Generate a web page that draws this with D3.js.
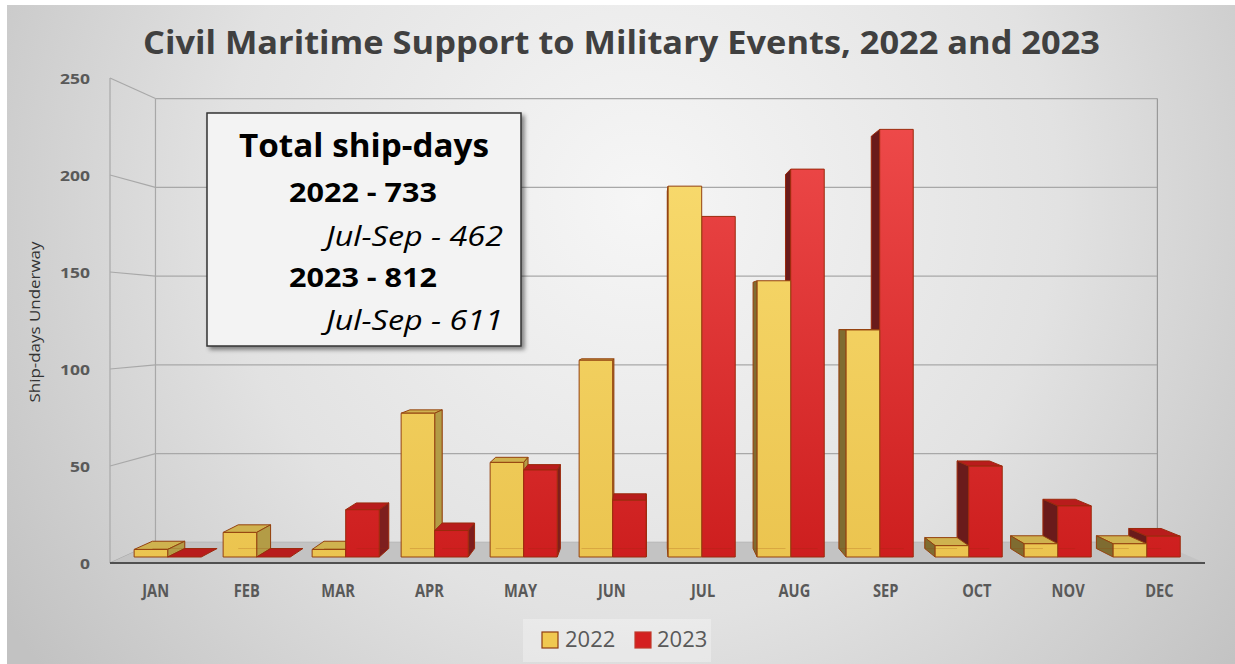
<!DOCTYPE html>
<html><head><meta charset="utf-8">
<script src="https://cdn.jsdelivr.net/npm/d3@7"></script>
<style>
html,body{margin:0;padding:0;background:#fff;}
svg{display:block;font-family:"Open Sans",sans-serif;}
</style></head><body>
<svg id="chart" width="1235" height="664"></svg>
<script>
// ---------------- data ----------------
const months = ["JAN","FEB","MAR","APR","MAY","JUN","JUL","AUG","SEP","OCT","NOV","DEC"];
const seriesNames = ["2022","2023"];
const values2022 = [4,13,4,76,50,104,196,146,120,6,7,7];
const values2023 = [0,0,25,14,46,30,180,205,226,48,27,11];
const yTicks = [0,50,100,150,200,250];
const titleText = "Civil Maritime Support to Military Events, 2022 and 2023";
const yAxisTitle = "Ship-days Underway";
const noteTitle = "Total ship-days";
const noteYears = ["2022 - 733","2023 - 812"];
const noteSubs = ["Jul-Sep - 462","Jul-Sep - 611"];

// ---------------- setup ----------------
const svg = d3.select("#chart");
const W = 1235, H = 664;
const defs = svg.append("defs");

const bg = defs.append("radialGradient").attr("id","bg").attr("gradientUnits","userSpaceOnUse")
  .attr("cx",640).attr("cy",200).attr("r",760);
bg.append("stop").attr("offset",0).attr("stop-color","#f6f6f6");
bg.append("stop").attr("offset",0.55).attr("stop-color","#e2e2e2");
bg.append("stop").attr("offset",1).attr("stop-color","#c2c2c2");

function vgrad(id, c1, c2){
  const g = defs.append("linearGradient").attr("id",id).attr("gradientUnits","userSpaceOnUse")
    .attr("x1",0).attr("y1",120).attr("x2",0).attr("y2",560);
  g.append("stop").attr("offset",0).attr("stop-color",c1);
  g.append("stop").attr("offset",1).attr("stop-color",c2);
}
vgrad("yFront","#f9dc70","#ebc44f");
vgrad("rFront","#ee4a4a","#cd1e1e");

const sh = defs.append("filter").attr("id","shadow").attr("x","-10%").attr("y","-10%").attr("width","130%").attr("height","130%");
sh.append("feDropShadow").attr("dx",3).attr("dy",3).attr("stdDeviation",2).attr("flood-color","#000").attr("flood-opacity",0.45);

svg.append("rect").attr("x",0).attr("y",0).attr("width",W).attr("height",H).attr("fill","#ffffff");
svg.append("rect").attr("x",7).attr("y",5).attr("width",W-7).attr("height",H-5).attr("fill","url(#bg)");

// ---------------- scales & projection ----------------
const frontLeft = 110, frontRight = 1205, frontBottom = 563, frontTop = 78;
const VX = 645, VY = 320, K = 0.085;
const sc = z => 1 - K*z;
const P = (X,Y,z) => [VX + (X-VX)*sc(z), VY + (Y-VY)*sc(z)];

const x = d3.scaleBand().domain(months).range([frontLeft, frontRight]);
const groupW = x.bandwidth()*0.754;
const xs = d3.scaleBand().domain(seriesNames).range([0, groupW]);
const y = d3.scaleLinear().domain([0,250]).range([frontBottom, frontTop]);
const z0 = 0.29, z1 = 0.70;
const line = d3.line();
const poly = pts => line(pts) + "Z";

// ---------------- walls / grid ----------------
const grid = svg.append("g").attr("fill","none").attr("stroke","#a8a8a8").attr("stroke-width",1.2);
// floor
svg.insert("path", null);
svg.append("path")
  .attr("d", poly([[frontLeft,frontBottom],[frontRight,frontBottom],P(frontRight,frontBottom,1),P(frontLeft,frontBottom,1)]))
  .attr("fill","#c3c3c3");
yTicks.forEach(v=>{
  const a = P(frontLeft,y(v),1), b = P(frontRight,y(v),1);
  grid.append("path").attr("d", line([a,b]));
  grid.append("path").attr("d", line([[frontLeft,y(v)], a]));
});
grid.append("path").attr("d", line([[frontLeft,y(250)],[frontLeft,y(0)]]));
grid.append("path").attr("d", line([P(frontLeft,y(250),1),P(frontLeft,y(0),1)]));
grid.append("path").attr("d", line([P(frontRight,y(250),1),P(frontRight,y(0),1)])).attr("stroke","#999");
svg.append("path").attr("d", line([[frontLeft,frontBottom],[frontRight,frontBottom]]))
  .attr("stroke","#505050").attr("stroke-width",2.2).attr("fill","none");

// ---------------- bars ----------------
const bars = [];
months.forEach((m,i)=>{
  [values2022[i], values2023[i]].forEach((v,j)=>{
    const X0 = x(m) + (x.bandwidth()-groupW)/2 + xs(seriesNames[j]);
    const X1 = X0 + xs.bandwidth();
    bars.push({m, v, j, X0, X1, cx:(X0+X1)/2});
  });
});
bars.sort((a,b)=>Math.abs(b.cx-VX)-Math.abs(a.cx-VX));

const pal = [
  {front:"url(#yFront)", top:"#cfb24f", sideR:"#b39c46", sideL:"#7f6c31", stroke:"#94420f"},
  {front:"url(#rFront)", top:"#b81c1c", sideR:"#7e1e1e", sideL:"#6a1b1b", stroke:"#9b2a0c"}
];
const gb = svg.append("g");
bars.forEach(b=>{
  const c = pal[b.j];
  const Y0 = y(0), Y1 = y(b.v);
  const g = gb.append("g").attr("stroke",c.stroke).attr("stroke-width",1).attr("stroke-linejoin","round");
  if (Y1 > VY) {
    g.append("path").attr("d", poly([P(b.X0,Y1,z0),P(b.X1,Y1,z0),P(b.X1,Y1,z1),P(b.X0,Y1,z1)])).attr("fill",c.top);
  }
  if (b.v > 0) {
    const leftOf = b.cx < VX;
    const XE = leftOf ? b.X1 : b.X0;
    g.append("path").attr("d", poly([P(XE,Y1,z0),P(XE,Y1,z1),P(XE,Y0,z1),P(XE,Y0,z0)]))
      .attr("fill", leftOf ? c.sideR : c.sideL);
    g.append("path").attr("d", poly([P(b.X0,Y1,z0),P(b.X1,Y1,z0),P(b.X1,Y0,z0),P(b.X0,Y0,z0)]))
      .attr("fill", c.front);
    // faint see-through back edges (glass look)
    const ge = g.append("g").attr("stroke-opacity",0.22).attr("fill","none");
    const XB = leftOf ? b.X1 : b.X0;
    ge.append("path").attr("d", line([P(XB,Y1,z1),P(XB,Y0,z1)]));
    ge.append("path").attr("d", line([P(b.X0,Y0,z1),P(b.X1,Y0,z1)]));
  }
});

// ---------------- axes text ----------------
function fit(sel, w){
  sel.each(function(){
    const n = this.getComputedTextLength();
    if (Math.abs(n-w) > 1) d3.select(this).attr("textLength", w).attr("lengthAdjust","spacingAndGlyphs");
  });
}
const yAxis = d3.axisLeft(y).tickValues(yTicks).tickSize(0).tickPadding(0);
const ya = svg.append("g").attr("transform","translate(90,0)").call(yAxis);
ya.select(".domain").remove();
ya.selectAll("text").attr("font-family","Open Sans").attr("font-weight",700).attr("font-size",15)
  .attr("fill","#595959").attr("dy","0.38em").attr("x",0)
  .each(function(d){ fit(d3.select(this), String(d).length*10); });

const xa = svg.append("g");
months.forEach(m=>{
  const t = xa.append("text").attr("x", x(m)+x.bandwidth()/2).attr("y",597).attr("text-anchor","middle")
    .attr("font-weight",700).attr("font-size",17).attr("fill","#595959").text(m);
  const n = t.node().getComputedTextLength();
  t.attr("textLength", n*0.86).attr("lengthAdjust","spacingAndGlyphs");
});

const yt = svg.append("text").attr("transform","translate(40,322) rotate(-90)").attr("text-anchor","middle")
  .attr("font-size",14).attr("fill","#333").text(yAxisTitle);
fit(yt,161);

const tt = svg.append("text").attr("x",621.5).attr("y",54).attr("text-anchor","middle")
  .attr("font-weight",700).attr("font-size",33).attr("fill","#404040").text(titleText);
fit(tt,957);

// ---------------- note box ----------------
svg.append("rect").attr("x",207).attr("y",113).attr("width",314).attr("height",233)
  .attr("fill","#f3f3f3").attr("stroke","#333").attr("stroke-width",1.5).attr("filter","url(#shadow)");
const nt = svg.append("text").attr("x",364).attr("y",157).attr("text-anchor","middle")
  .attr("font-weight",700).attr("font-size",33).attr("fill","#000").text(noteTitle);
fit(nt,250);
[[202,246],[287,330]].forEach((ys,i)=>{
  const a = svg.append("text").attr("x",363).attr("y",ys[0]).attr("text-anchor","middle")
    .attr("font-weight",700).attr("font-size",27).attr("fill","#000").text(noteYears[i]);
  fit(a,148);
  const b = svg.append("text").attr("x",503).attr("y",ys[1]).attr("text-anchor","end")
    .attr("font-style","italic").attr("font-size",27).attr("fill","#000").text(noteSubs[i]);
  fit(b,177);
});

// ---------------- legend ----------------
const lg = svg.append("g");
lg.append("rect").attr("x",523).attr("y",619).attr("width",188).attr("height",43).attr("fill","#ffffff").attr("fill-opacity",0.3);
const legendItems = [{name:seriesNames[0], fill:"#f0c850", stroke:"#8f3d12", x:542, tx:565},
                     {name:seriesNames[1], fill:"#d42020", stroke:"#c0392b", x:635, tx:657}];
legendItems.forEach(d=>{
  lg.append("rect").attr("x",d.x).attr("y",632).attr("width",16).attr("height",16)
    .attr("fill",d.fill).attr("stroke",d.stroke).attr("stroke-width",1.2);
  const t = lg.append("text").attr("x",d.tx).attr("y",647).attr("font-size",22).attr("fill","#595959").text(d.name);
  fit(t,50);
});
</script>
</body></html>
